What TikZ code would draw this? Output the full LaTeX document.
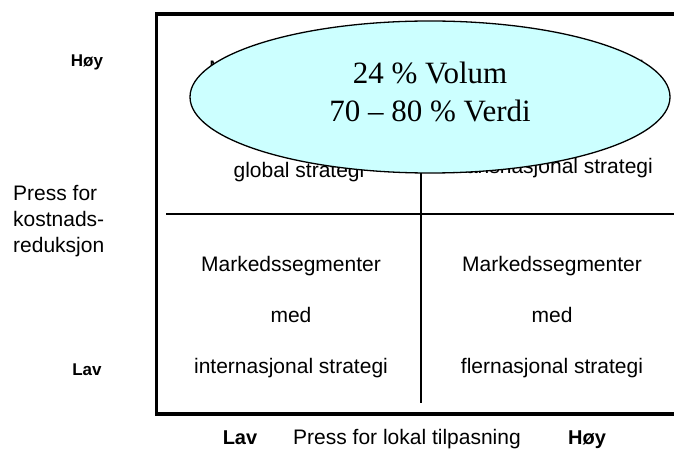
\documentclass[tikz,border=0pt]{standalone}
\usepackage{fontspec}
\setmainfont{Liberation Sans}
\newfontfamily\serifface{Liberation Serif}
\usetikzlibrary{shapes.geometric}
\definecolor{paleCyan}{RGB}{204,255,255}
\begin{document}
\begin{tikzpicture}[x=1bp,y=-1bp,
  frame/.style={line width=3.5bp},
  divider/.style={line width=1.4bp},
  celltext/.style={font=\fontsize{21bp}{51bp}\selectfont, align=center, inner sep=0pt},
  axistitle/.style={font=\fontsize{21bp}{26bp}\selectfont, inner sep=0pt},
  axisend/.style={font=\bfseries\fontsize{17bp}{20bp}\selectfont, inner sep=0pt, anchor=base},
  axisendlarge/.style={font=\bfseries\fontsize{20bp}{24bp}\selectfont, inner sep=0pt, anchor=base},
  bubble/.style={ellipse, draw, line width=1.3bp, fill=paleCyan,
    minimum width=480bp, minimum height=152bp, inner sep=0pt},
  bubbletext/.style={font=\serifface\fontsize{31bp}{38bp}\selectfont, align=center, inner sep=0pt}
  ]
\useasboundingbox (0,0) rectangle (674,465);
\clip (0,0) rectangle (674,465);
\fill[white] (0,0) rectangle (674,465);

% outer frame (open to the right)
\draw[frame] (156.5,14) rectangle (700,414);

% quadrant dividers
\coordinate (hl) at (166,214);
\coordinate (hr) at (700,214);
\coordinate (vt) at (421,150);
\coordinate (vb) at (421,403);
\draw[divider] (hl) -- (hr);
\draw[divider] (vt) -- (vb);

% quadrant texts
\node[celltext] (tl) at (299,121) {Markedssegmenter\\med\\global strategi};
\node[celltext] (tr) at (553,117) {Markedssegmenter\\med\\transnasjonal strategi};
\node[celltext] (bl) at (291,317) {Markedssegmenter\\med\\internasjonal strategi};
\node[celltext] (br) at (552,317) {Markedssegmenter\\med\\flernasjonal strategi};

% share bubble on top
\node[bubble] (share) at (430,97) {};
\node[bubbletext] (sharetext) at (430,92) {24 \% Volum\\70 – 80 \% Verdi};

% vertical axis
\node[axisend] (yhigh) at (87,67) {Høy};
\node[axisend] (ylow) at (87,375) {Lav};
\node[axistitle, anchor=west, align=left] (ytitle) at (13,221) {Press for\\kostnads-\\reduksjon};

% horizontal axis
\node[axisendlarge] (xlow) at (240,444) {Lav};
\node[axistitle, anchor=base] (xtitle) at (407,444) {Press for lokal tilpasning};
\node[axisendlarge] (xhigh) at (587,444) {Høy};
\end{tikzpicture}
\end{document}
